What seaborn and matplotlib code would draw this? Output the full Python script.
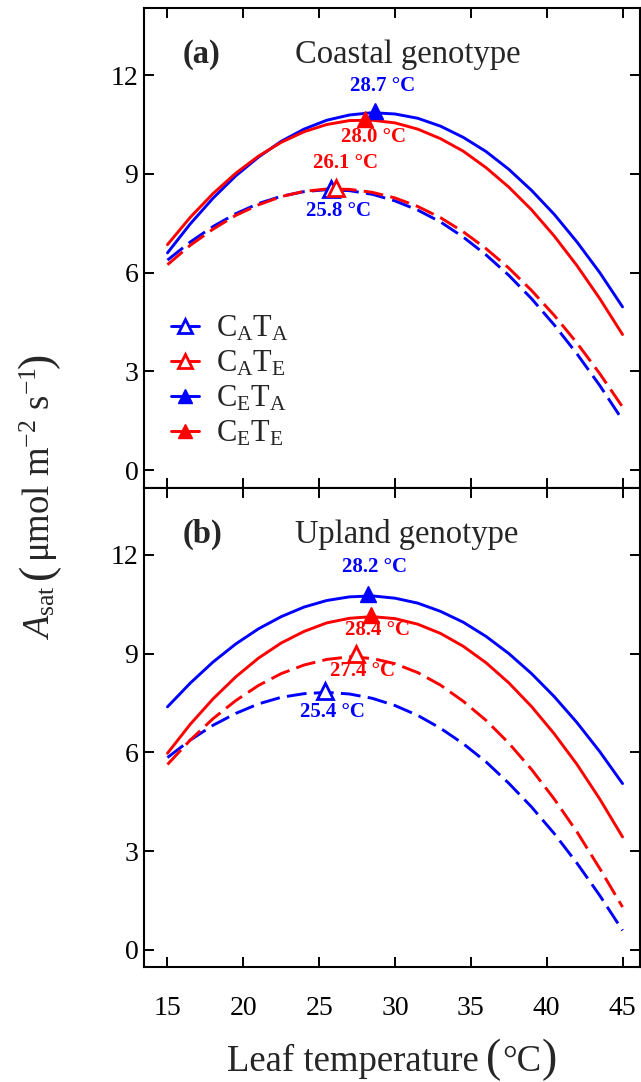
import matplotlib
matplotlib.use("Agg")
import numpy as np
import pandas as pd
import seaborn as sns
import matplotlib.pyplot as plt
from matplotlib.lines import Line2D

sns.set_theme(style="ticks")
plt.rcParams['font.family'] = ['Liberation Serif', 'DejaVu Serif']
plt.rcParams['mathtext.fontset'] = 'custom'
plt.rcParams['mathtext.rm'] = 'Liberation Serif'
plt.rcParams['mathtext.it'] = 'Liberation Serif:italic'
plt.rcParams['mathtext.bf'] = 'Liberation Serif:bold'

# ---------------- data ----------------
temps = [15, 16.5, 18, 19.5, 21, 22.5, 24, 25.5, 27, 28.5, 30,
         31.5, 33, 34.5, 36, 37.5, 39, 40.5, 42, 43.5, 45]
treatments = ["CATA", "CATE", "CETA", "CETE"]

coastal_CATA = [6.38, 6.93, 7.40, 7.79, 8.10, 8.32, 8.46, 8.52, 8.49, 8.38, 8.18,
                7.90, 7.54, 7.08, 6.54, 5.92, 5.21, 4.41, 3.53, 2.57, 1.52]
coastal_CATE = [6.24, 6.83, 7.32, 7.74, 8.06, 8.31, 8.47, 8.54, 8.53, 8.44, 8.27,
                8.01, 7.67, 7.24, 6.73, 6.14, 5.46, 4.70, 3.86, 2.93, 1.92]
coastal_CETA = [6.60, 7.48, 8.26, 8.94, 9.51, 9.99, 10.36, 10.63, 10.79, 10.86, 10.82,
                10.69, 10.45, 10.11, 9.68, 9.14, 8.50, 7.77, 6.93, 6.00, 4.96]
coastal_CETE = [6.85, 7.68, 8.40, 9.02, 9.54, 9.96, 10.28, 10.50, 10.62, 10.63, 10.55,
                10.36, 10.07, 9.69, 9.19, 8.60, 7.91, 7.11, 6.21, 5.21, 4.12]

upland_CATA = [5.84, 6.37, 6.82, 7.18, 7.47, 7.67, 7.78, 7.82, 7.77, 7.64, 7.42,
               7.12, 6.73, 6.26, 5.71, 5.06, 4.34, 3.53, 2.63, 1.65, 0.59]
upland_CATE = [5.63, 6.37, 7.02, 7.57, 8.03, 8.39, 8.65, 8.82, 8.90, 8.85, 8.69,
               8.42, 8.04, 7.55, 6.97, 6.28, 5.48, 4.58, 3.58, 2.47, 1.30]
upland_CETA = [7.38, 8.10, 8.74, 9.29, 9.75, 10.12, 10.41, 10.61, 10.72, 10.75, 10.68,
               10.53, 10.28, 9.95, 9.52, 9.00, 8.39, 7.69, 6.90, 6.02, 5.05]
upland_CETE = [5.97, 6.85, 7.62, 8.29, 8.86, 9.32, 9.67, 9.93, 10.07, 10.12, 10.06,
               9.89, 9.61, 9.22, 8.72, 8.11, 7.39, 6.56, 5.63, 4.58, 3.43]

# optimum temperatures and rates (markers)
coastal_topt = [25.8, 26.1, 28.7, 28.0]
coastal_aopt = [8.55, 8.57, 10.90, 10.66]
upland_topt = [25.4, 27.4, 28.2, 28.4]
upland_aopt = [7.86, 9.00, 10.80, 10.18]

legend_labels = [r"$\mathrm{C_{A}T_{A}}$", r"$\mathrm{C_{A}T_{E}}$",
                 r"$\mathrm{C_{E}T_{A}}$", r"$\mathrm{C_{E}T_{E}}$"]

# ---------------- styles ----------------
colors = {"CATA": "#0000ff", "CATE": "#ff0000", "CETA": "#0000ff", "CETE": "#ff0000"}
dashed = {"CATA": True, "CATE": True, "CETA": False, "CETE": False}
filled = {"CATA": False, "CATE": False, "CETA": True, "CETE": True}

# label offsets (points) relative to the optimum marker
coastal_offsets = [(5, -16), (7, 18), (5.5, 18), (6, -13)]
upland_offsets = [(5, -15), (5, -12.5), (5, 19.5), (5, -11)]

panels = [
    ("(a)", "Coastal genotype",
     [coastal_CATA, coastal_CATE, coastal_CETA, coastal_CETE],
     coastal_topt, coastal_aopt, coastal_offsets),
    ("(b)", "Upland genotype",
     [upland_CATA, upland_CATE, upland_CETA, upland_CETE],
     upland_topt, upland_aopt, upland_offsets),
]

W, H = 641, 1082
fig = plt.figure(figsize=(W / 100, H / 100), dpi=100)
left, right = 0.2246, 0.9984
ax1 = fig.add_axes([left, 0.5494, right - left, 0.4432])
ax2 = fig.add_axes([left, 0.1060, right - left, 0.4434])
axes = [ax1, ax2]

for ax, (tag, title, series, topt, aopt, offs) in zip(axes, panels):
    df = pd.DataFrame({"T": temps * 4,
                       "A": sum(series, []),
                       "trt": sum([[t] * len(temps) for t in treatments], [])})
    for trt in treatments:
        sub = df[df["trt"] == trt]
        sns.lineplot(data=sub, x="T", y="A", ax=ax, color=colors[trt],
                     lw=2.1, legend=False, zorder=2)
        ax.lines[-1].set_solid_joinstyle("round")
        if dashed[trt]:
            ax.lines[-1].set_dashes((6.8, 2.5))
    for i, trt in enumerate(treatments):
        fc = colors[trt] if filled[trt] else "white"
        ax.plot([topt[i]], [aopt[i]], marker="^", ms=12, mfc=fc,
                mec=colors[trt], mew=2.0 if not filled[trt] else 1.0,
                ls="none", zorder=4 if filled[trt] else 3)
        ax.annotate(f"{topt[i]:.1f} °C", xy=(topt[i], aopt[i]),
                    xytext=offs[i], textcoords="offset points",
                    ha="center", va="center", color=colors[trt],
                    fontsize=15, fontweight="bold", zorder=5)
    ax.set_xlim(13.45, 46.15)
    ax.set_ylim(-0.53, 14.04)
    ax.set_yticks([0, 3, 6, 9, 12])
    ax.set_xticks([15, 20, 25, 30, 35, 40, 45])
    ax.tick_params(axis="both", direction="in", length=7, width=1.4,
                   top=True, right=True, labelsize=20, colors="black")
    ax.tick_params(axis="y", pad=4)
    ax.tick_params(axis="x", pad=21)
    for s in ax.spines.values():
        s.set_linewidth(1.5)
        s.set_color("black")
    ax.set_xlabel("")
    ax.set_ylabel("")
    ax.text(0.078, 0.885, tag, transform=ax.transAxes, fontsize=23.5,
            fontweight="bold", ha="left", va="baseline")
    ax.text(0.304, 0.885, title, transform=ax.transAxes, fontsize=23.5,
            ha="left", va="baseline")

ax1.tick_params(axis="x", labelbottom=False)

handles = []
for trt in treatments:
    fc = colors[trt] if filled[trt] else "white"
    handles.append(Line2D([0], [0], color=colors[trt], lw=2.1, marker="^",
                          ms=10, mfc=fc, mec=colors[trt],
                          mew=2.0 if not filled[trt] else 1.0))
ax1.legend(handles, legend_labels, loc="center left",
           bbox_to_anchor=(0.055, 0.222), frameon=False, fontsize=22,
           handlelength=0.9, handletextpad=0.55, labelspacing=0.18,
           borderpad=0, borderaxespad=0)


# ---------- axis titles with enlarged parentheses ----------
def compose(pieces, center_px, base_px, vertical):
    """pieces: list of (text, fontsize, gap_before_px). Laid out along the
    baseline, centred on center_px; base_px is the baseline coordinate."""
    renderer = fig.canvas.get_renderer()
    objs, widths = [], []
    for s, size, gap in pieces:
        t = fig.text(0, 0, s, fontsize=size, ha="left", va="baseline",
                     rotation_mode="anchor")
        widths.append(t.get_window_extent(renderer).width)
        objs.append(t)
    total = sum(widths) + sum(p[2] for p in pieces)
    pos = center_px - total / 2
    for t, w, p in zip(objs, widths, pieces):
        pos += p[2]
        if vertical:
            t.set_position((base_px / W, 1 - (H - pos) / H if False else pos / H))
            t.set_rotation(90)
        else:
            t.set_position((pos / W, 1 - base_px / H))
        pos += w


compose([("Leaf temperature", 26.5, 0), ("(", 33, 7), ("°C", 26.5, 1),
         (")", 33, 0)], center_px=0.5 * (left + right) * W, base_px=1071,
        vertical=False)
# vertical: positions measured from bottom of figure (pixels)
compose([(r"$A_{\mathrm{sat}}$", 26.5, 0), ("(", 33, 6),
         (r"μmol m$^{-2}$ s$^{-1}$", 26.5, 1), (")", 33, 0)],
        center_px=H - 496, base_px=50, vertical=True)

fig.savefig("out.png", dpi=100)
